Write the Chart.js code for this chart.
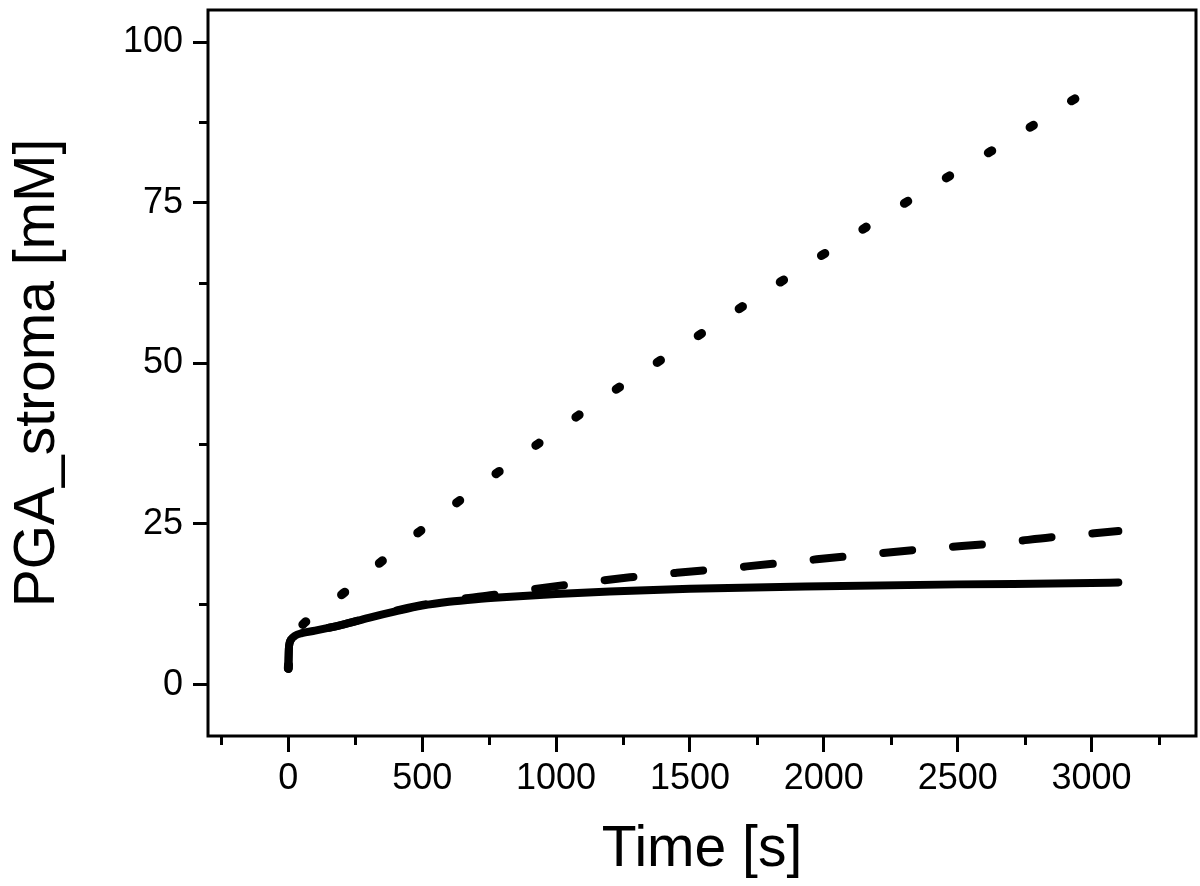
<!DOCTYPE html>
<html>
<head>
<meta charset="utf-8">
<title>PGA_stroma</title>
<script src="https://cdn.jsdelivr.net/npm/chart.js@4"></script>
<style>
    html, body { margin: 0; padding: 0; background: #fff; }
    #wrap { width: 1200px; height: 886px; }
</style>
</head>
<body>
<div id="wrap"><canvas id="pga-chart"></canvas></div>
<script>
// values
const SOLID_T = [0, 1, 2, 5, 10, 25, 50, 100, 200, 300, 400, 500, 600, 700, 800, 1000, 1200, 1500, 2000, 2500, 3000, 3100];
const SOLID_Y = [2.5, 4, 5.5, 6.5, 7, 7.6, 8, 8.4, 9.3, 10.4, 11.4, 12.3, 12.9, 13.3, 13.6, 14.1, 14.5, 14.9, 15.3, 15.6, 15.8, 15.9];

const DASHED_T = [0, 2, 5, 10, 25, 50, 100, 200, 300, 400, 500, 600, 754, 1015, 1276, 1451, 1712, 1973, 2146, 2407, 2668, 2843, 3100];
const DASHED_Y = [2.5, 5.5, 6.5, 7, 7.6, 8, 8.4, 9.3, 10.4, 11.5, 12.4, 13.1, 13.9, 15.4, 16.7, 17.4, 18.4, 19.5, 20.2, 21.2, 22.1, 22.9, 23.9];

const DOTTED_T = [0, 5, 25, 50, 205, 358, 514, 686, 862, 1019, 1172, 1332, 1560, 1713, 1869, 2022, 2254, 2407, 2567, 2720, 2948, 2980];
const DOTTED_Y = [2.5, 6.5, 8, 9.2, 14.2, 19.5, 24.6, 30.1, 35.4, 40, 44.5, 48.9, 55.1, 59.3, 63.5, 67.6, 73.7, 77.6, 81.6, 85.4, 91.4, 92];

const X_TICKS = [0, 500, 1000, 1500, 2000, 2500, 3000];
const X_MINOR = [-250, 250, 750, 1250, 1750, 2250, 2750, 3250];
const Y_TICKS = [0, 25, 50, 75, 100];
const Y_MINOR = [12.5, 37.5, 62.5, 87.5];

const FONT = '"Liberation Sans", Arial, sans-serif';
const INK = '#000';

function toPoints(xs, ys) {
    return xs.map((x, i) => ({ x, y: ys[i] }));
}

function series(label, xs, ys, dash, width) {
    return {
        label,
        data: toPoints(xs, ys),
        borderColor: INK,
        borderWidth: width,
        borderDash: dash,
        borderCapStyle: 'round',
        borderJoinStyle: 'round',
        pointRadius: 0,
        cubicInterpolationMode: 'monotone',
        fill: false,
    };
}

// box around the plot plus the short minor ticks
const frameAndMinorTicks = {
    id: 'frameAndMinorTicks',
    afterDatasetsDraw(chart) {
        const { ctx, chartArea: area, scales } = chart;
        ctx.save();
        ctx.strokeStyle = INK;
        ctx.lineWidth = 3;
        ctx.strokeRect(area.left, area.top, area.right - area.left, area.bottom - area.top);

        ctx.beginPath();
        X_MINOR.forEach((v) => {
            const px = Math.round(scales.x.getPixelForValue(v)) + 0.5;
            ctx.moveTo(px, area.bottom);
            ctx.lineTo(px, area.bottom + 9);
        });
        Y_MINOR.forEach((v) => {
            const py = Math.round(scales.y.getPixelForValue(v)) + 0.5;
            ctx.moveTo(area.left, py);
            ctx.lineTo(area.left - 9, py);
        });
        ctx.stroke();
        ctx.restore();
    },
};

const tickFont = { family: FONT, size: 36 };
const titleFont = { family: FONT, size: 57 };

function noPadding(scale) {
    scale.paddingTop = 0;
    scale.paddingBottom = 0;
    scale.paddingLeft = 0;
    scale.paddingRight = 0;
}

new Chart(document.getElementById('pga-chart'), {
    type: 'line',
    data: {
        datasets: [
            series('solid', SOLID_T, SOLID_Y, [], 8),
            series('dashed', DASHED_T, DASHED_Y, [29, 41], 8),
            series('dotted', DOTTED_T, DOTTED_Y, [4, 45], 9),
        ],
    },
    options: {
        responsive: true,
        maintainAspectRatio: false,
        animation: false,
        layout: { padding: { top: 10, right: 4, left: 0, bottom: 0 } },
        plugins: {
            legend: { display: false },
            tooltip: { enabled: false },
        },
        scales: {
            x: {
                type: 'linear',
                min: -300,
                max: 3390,
                afterBuildTicks: (scale) => { scale.ticks = X_TICKS.map((value) => ({ value })); },
                afterFit: (scale) => { scale.height = 150; noPadding(scale); },
                border: { display: false },
                grid: {
                    drawOnChartArea: false,
                    drawTicks: true,
                    tickLength: 16,
                    tickWidth: 3,
                    tickColor: INK,
                },
                ticks: {
                    color: INK,
                    font: tickFont,
                    padding: 5,
                    maxRotation: 0,
                    callback: (value) => String(value),
                },
                title: {
                    display: true,
                    text: 'Time [s]',
                    color: INK,
                    font: titleFont,
                    padding: { top: 0, bottom: 2 },
                },
            },
            y: {
                type: 'linear',
                min: -8,
                max: 105,
                afterBuildTicks: (scale) => { scale.ticks = Y_TICKS.map((value) => ({ value })); },
                afterFit: (scale) => { scale.width = 208; noPadding(scale); },
                border: { display: false },
                grid: {
                    drawOnChartArea: false,
                    drawTicks: true,
                    tickLength: 15,
                    tickWidth: 3,
                    tickColor: INK,
                },
                ticks: {
                    color: INK,
                    font: tickFont,
                    padding: 10,
                    callback: (value) => String(value),
                },
                title: {
                    display: true,
                    text: 'PGA_stroma [mM]',
                    color: INK,
                    font: titleFont,
                    padding: { top: 4, bottom: 0 },
                },
            },
        },
    },
    plugins: [frameAndMinorTicks],
});
</script>
</body>
</html>
